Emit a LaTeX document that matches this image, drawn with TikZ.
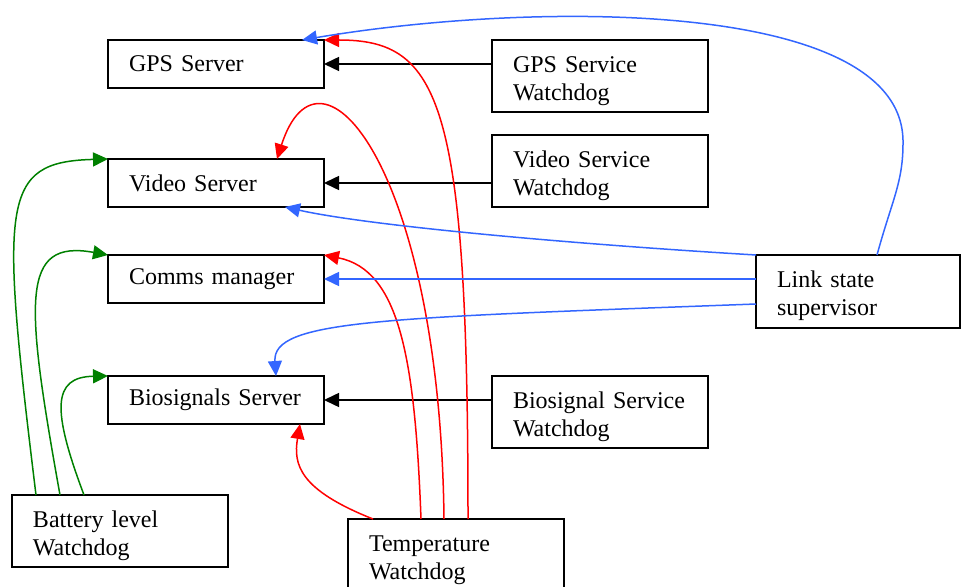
\documentclass[tikz,border=0pt]{standalone}
\usepackage{fontspec}
\setmainfont{Liberation Serif}
\usepackage{tikz}
\usetikzlibrary{arrows.meta, positioning}
\definecolor{wdblue}{RGB}{51,102,255}
\definecolor{wdgreen}{RGB}{0,128,0}

\begin{document}
\begin{tikzpicture}[
            x=0.5pt, y=-0.5pt,
            servernode/.style={draw=black, line width=0.8pt, outer sep=0pt, text width=87pt, inner xsep=10.5pt, minimum height=24pt, align=left, font=\fontsize{12pt}{14pt}\selectfont},
            dognode/.style={servernode, minimum height=36pt, inner ysep=2pt, execute at begin node={\rule{0pt}{13pt}}},
            blackarrow/.style={-{Triangle[length=7.5pt, width=7pt]}, line width=0.75pt, draw=black},
            redarrow/.style={blackarrow, draw=red},
            greenarrow/.style={blackarrow, draw=wdgreen},
            bluearrow/.style={blackarrow, draw=wdblue},
            ]
            \useasboundingbox (-108,-40) rectangle (853,547);
            \node[servernode, anchor=north west] (gps) at (0,0) {GPS Server};
            \node[servernode]  (vid)  [below=35.5pt of gps] {Video Server};
            \node[servernode]  (com)  [below=24pt of vid] {Comms manager};
            \node[servernode]  (bio)  [below=36.5pt of com] {Biosignals Server};

            \node[dognode]     (gpsw) [right=84pt of gps.north east, anchor=north west] {GPS Service\\Watchdog};
            \node[dognode]     (vidw) [below=11.5pt of gpsw] {Video Service\\Watchdog};
            \node[dognode]     (biow) [right=84pt of bio.north east, anchor=north west] {Biosignal Service\\Watchdog};
            \node[dognode, text width=81pt, minimum height=36.5pt] (lss) [right=216pt of com.north east, anchor=north west] {Link state\\supervisor};
            \node[dognode]     (bat)  [below left=35.5pt and 48pt of bio.south west, anchor=north west] {Battery level\\Watchdog};
            \node[dognode]     (tmp)  [below right=47.5pt and 12pt of bio.south east, anchor=north west] {Temperature\\Watchdog};

            \draw[blackarrow] (gps.east -| gpsw.west) -- (gps.east);
            \draw[blackarrow] (vid.east -| vidw.west) -- (vid.east);
            \draw[blackarrow] (bio.east -| biow.west) -- (bio.east);

            \draw[greenarrow] ([xshift=12pt]bat.north west) .. controls +(-36,-295) and +(-108,3) .. (vid.north west);
            \draw[greenarrow] ([xshift=24pt]bat.north west) .. controls +(-35,-195) and +(-88,-16) .. (com.north west);
            \draw[greenarrow] ([xshift=36pt]bat.north west) .. controls +(-32,-85) and +(-56,1) .. (bio.north west);

            \draw[redarrow] ([xshift=12.5pt]tmp.north west) .. controls +(-73,-29) and +(-7,41) .. ([xshift=-12pt]bio.south east);
            \draw[redarrow] ([xshift=36.5pt]tmp.north west) .. controls +(-6,-159) and +(76,15) .. (com.north east);
            \draw[redarrow] ([xshift=48pt]tmp.north west) .. controls +(-4,-349) and +(43,-134) .. ([xshift=-23.5pt]vid.north east);
            \draw[redarrow] ([xshift=60pt]tmp.north west) .. controls +(0,-419) and +(116,0) .. (gps.north east);

            \draw[bluearrow] ([xshift=9.5pt]lss.north) .. controls +(15,-55) and +(0,40) .. ++(26,-112)
                .. controls +(2,-143) and +(238,-40) .. ([xshift=-11pt]gps.north east);
            \draw[bluearrow] (lss.north west) .. controls +(-200,-12) and +(80,18) .. ([xshift=-19.5pt]vid.south east);
            \draw[bluearrow] (com.east -| lss.west) -- (com.east);
            \draw[bluearrow] ([yshift=-6.25pt]lss.west) .. controls +(-376,14) and +(-4,-56) .. ([xshift=-24pt]bio.north east);
        \end{tikzpicture}
\end{document}
